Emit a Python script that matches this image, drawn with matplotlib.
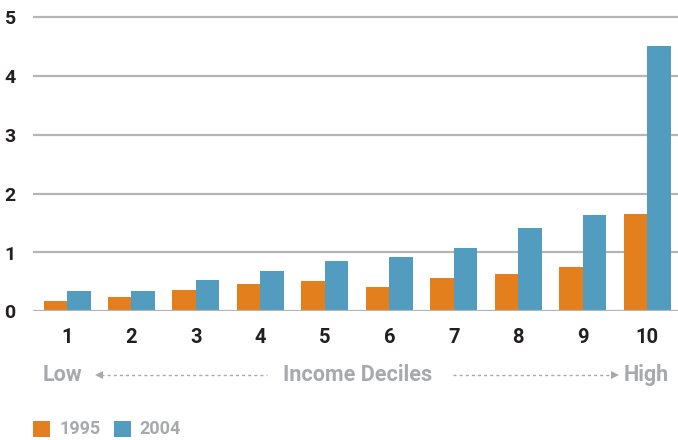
import matplotlib
matplotlib.use("Agg")
import matplotlib.pyplot as plt
import numpy as np
from matplotlib.lines import Line2D
from matplotlib.patches import Rectangle
from matplotlib import font_manager

deciles = ["1", "2", "3", "4", "5", "6", "7", "8", "9", "10"]
values_1995 = [0.17, 0.24, 0.36, 0.47, 0.51, 0.41, 0.56, 0.64, 0.75, 1.66]
values_2004 = [0.34, 0.34, 0.54, 0.69, 0.86, 0.93, 1.07, 1.42, 1.64, 4.51]
series_labels = ["1995", "2004"]
y_ticks = [0, 1, 2, 3, 4, 5]

ORANGE = "#E37F1C"
BLUE = "#529DBF"
DARK = "#231F20"
GRAY = "#A7A9AC"
GRID = "#B5B5B5"

available = {f.name for f in font_manager.fontManager.ttflist}
FONT = [f for f in ["Liberation Sans Narrow", "Roboto", "DejaVu Sans"] if f in available]
plt.rcParams["font.family"] = FONT

W, H = 678, 440
fig = plt.figure(figsize=(W / 100, H / 100), dpi=100)

# axes placement in pixels
px_per_unit = 58.8
y0_px = 311.3
ytop = 5.1
left_px = 33
ax = fig.add_axes([left_px / W, 1 - y0_px / H, 1 - left_px / W, ytop * px_per_unit / H])

x = np.arange(len(deciles))
bw = 0.365
ax.bar(x - bw / 2, values_1995, width=bw, color=ORANGE, zorder=3)
ax.bar(x + bw / 2, values_2004, width=bw, color=BLUE, zorder=3)

ax.set_xlim(-0.528, 9.48)
ax.set_ylim(0, ytop)

for v in y_ticks:
    ax.axhline(v, color=GRID, lw=1.6, zorder=1 if v else 4)

for s in ax.spines.values():
    s.set_visible(False)

ax.set_yticks(y_ticks)
ax.set_yticklabels([str(t) for t in y_ticks])
ax.set_xticks(x)
ax.set_xticklabels(deciles)
ax.tick_params(axis="both", length=0, colors=DARK)
ax.tick_params(axis="y", pad=12.5, labelsize=14)
ax.tick_params(axis="x", pad=12, labelsize=14.5)
for lbl in ax.get_xticklabels() + ax.get_yticklabels():
    lbl.set_fontweight("bold")


def fx(px):
    return px / W


def fy(py):
    return 1 - py / H


# Low <- Income Deciles -> High
row_y = 375
txt_kw = dict(color=GRAY, fontsize=15.5, fontweight="bold", va="center")
fig.text(fx(43), fy(row_y), "Low", ha="left", **txt_kw)
fig.text(fx(358), fy(row_y), "Income Deciles", ha="center", **txt_kw)
fig.text(fx(669), fy(row_y), "High", ha="right", **txt_kw)

dash_kw = dict(color=GRAY, lw=1.0, linestyle=(0, (2.2, 2.2)), transform=fig.transFigure)
fig.add_artist(Line2D([fx(101), fx(267)], [fy(row_y), fy(row_y)], **dash_kw))
fig.add_artist(Line2D([fx(453), fx(613)], [fy(row_y), fy(row_y)], **dash_kw))
fig.add_artist(Line2D([fx(99)], [fy(row_y)], marker="<", markersize=6, color=GRAY,
                      markeredgewidth=0, transform=fig.transFigure))
fig.add_artist(Line2D([fx(615)], [fy(row_y)], marker=">", markersize=6, color=GRAY,
                      markeredgewidth=0, transform=fig.transFigure))

# legend
leg_y = 429
for (sx, tx), lab, col in zip([(33, 59), (114, 139)], series_labels, [ORANGE, BLUE]):
    fig.add_artist(Rectangle((fx(sx), fy(437)), 17 / W, 16 / H, color=col,
                             transform=fig.transFigure, lw=0))
    fig.text(fx(tx), fy(leg_y), lab, ha="left", va="center", color=GRAY,
             fontsize=13, fontweight="bold")

fig.savefig("out.png", dpi=100)
